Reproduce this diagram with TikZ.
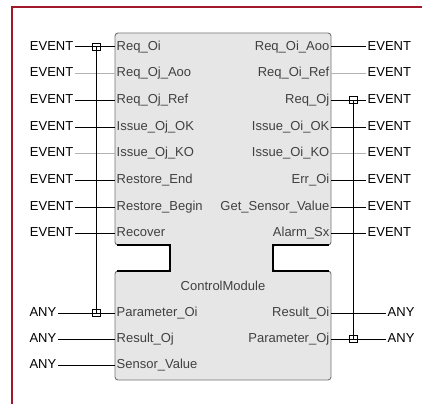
\documentclass[tikz,border=0pt]{standalone}
\usepackage{fontspec}
\setmainfont{Liberation Sans}
\usepackage{xcolor}
\usepackage{tikz}
\definecolor{framered}{HTML}{A0182A}
\definecolor{blockfill}{HTML}{E6E6E6}

\begin{document}
\begin{tikzpicture}[x=1pt, y=-1pt,
    port/.style={inner sep=1.5pt, text height=9pt, text depth=3pt, font=\fontsize{13}{15}\selectfont, text=black!75},
    ext/.style={inner sep=1.5pt, text height=9pt, text depth=3pt, font=\fontsize{13}{15}\selectfont},
    wire/.style={line width=1pt},
    faint/.style={line width=0.7pt, black!30},
    adapter/.style={draw, line width=0.9pt, minimum width=8pt, minimum height=7pt, inner sep=0pt}
]
\useasboundingbox (0,0) rectangle (422,404);

% Frame
\draw[framered, line width=2pt] (12,404) -- (12,7) -- (422,7);

% Block
\draw[fill=blockfill, draw=black!55, line width=0.9pt, rounded corners=3pt]
    (115,33) -- (331,33) -- (331,245) -- (273,245) -- (273,271) -- (331,271)
    -- (331,380) -- (115,380) -- (115,271) -- (170,271) -- (170,245) -- (115,245) -- cycle;
\draw[line width=1.3pt] (329,245) -- (273,245) -- (273,271) -- (329,271);
\draw[line width=1.3pt] (117,245) -- (170,245) -- (170,271) -- (117,271);
\node[port] (fbname) at (223,287) {ControlModule};

% Event inputs
\node[port, anchor=west] (reqoi) at (115,47) {Req\_Oi};
\node[port, anchor=west] (reqojaoo) at (115,73) {Req\_Oj\_Aoo};
\node[port, anchor=west] (reqojref) at (115,100) {Req\_Oj\_Ref};
\node[port, anchor=west] (issojok) at (115,127) {Issue\_Oj\_OK};
\node[port, anchor=west] (issojko) at (115,153) {Issue\_Oj\_KO};
\node[port, anchor=west] (rstend) at (115,180) {Restore\_End};
\node[port, anchor=west] (rstbegin) at (115,207) {Restore\_Begin};
\node[port, anchor=west] (recover) at (115,233) {Recover};

% Event outputs
\node[port, anchor=east] (reqoiaoo) at (331,47) {Req\_Oi\_Aoo};
\node[port, anchor=east] (reqoiref) at (331,73) {Req\_Oi\_Ref};
\node[port, anchor=east] (reqoj) at (331,100) {Req\_Oj};
\node[port, anchor=east] (issoiok) at (331,127) {Issue\_Oi\_OK};
\node[port, anchor=east] (issoiko) at (331,153) {Issue\_Oi\_KO};
\node[port, anchor=east] (erroi) at (331,180) {Err\_Oi};
\node[port, anchor=east] (getsens) at (331,207) {Get\_Sensor\_Value};
\node[port, anchor=east] (alarm) at (331,233) {Alarm\_Sx};

% Data inputs and outputs
\node[port, anchor=west] (paroi) at (115,313) {Parameter\_Oi};
\node[port, anchor=west] (resoj) at (115,339) {Result\_Oj};
\node[port, anchor=west] (sensval) at (115,365) {Sensor\_Value};
\node[port, anchor=east] (resoi) at (331,313) {Result\_Oi};
\node[port, anchor=east] (paroj) at (331,339) {Parameter\_Oj};

% Outside labels, left
\node[ext, anchor=east] (evl1) at (75,47) {EVENT};
\node[ext, anchor=east] (evl2) at (75,73) {EVENT};
\node[ext, anchor=east] (evl3) at (75,100) {EVENT};
\node[ext, anchor=east] (evl4) at (75,127) {EVENT};
\node[ext, anchor=east] (evl5) at (75,153) {EVENT};
\node[ext, anchor=east] (evl6) at (75,180) {EVENT};
\node[ext, anchor=east] (evl7) at (75,207) {EVENT};
\node[ext, anchor=east] (evl8) at (75,233) {EVENT};
\node[ext, anchor=east] (anyl1) at (58,313) {ANY};
\node[ext, anchor=east] (anyl2) at (58,339) {ANY};
\node[ext, anchor=east] (anyl3) at (58,365) {ANY};

% Outside labels, right
\node[ext, anchor=west] (evr1) at (366,47) {EVENT};
\node[ext, anchor=west] (evr2) at (366,73) {EVENT};
\node[ext, anchor=west] (evr3) at (366,100) {EVENT};
\node[ext, anchor=west] (evr4) at (366,127) {EVENT};
\node[ext, anchor=west] (evr5) at (366,153) {EVENT};
\node[ext, anchor=west] (evr6) at (366,180) {EVENT};
\node[ext, anchor=west] (evr7) at (366,207) {EVENT};
\node[ext, anchor=west] (evr8) at (366,233) {EVENT};
\node[ext, anchor=west] (anyr1) at (386,313) {ANY};
\node[ext, anchor=west] (anyr2) at (386,339) {ANY};

% Connectors
\draw[wire] (evl1.east) -- (reqoi.west);
\draw[faint] (evl2.east) -- (reqojaoo.west);
\draw[wire] (evl3.east) -- (reqojref.west);
\draw[wire] (evl4.east) -- (issojok.west);
\draw[faint] (evl5.east) -- (issojko.west);
\draw[wire] (evl6.east) -- (rstend.west);
\draw[wire] (evl7.east) -- (rstbegin.west);
\draw[wire] (evl8.east) -- (recover.west);
\draw[wire] (anyl1.east) -- (paroi.west);
\draw[wire] (anyl2.east) -- (resoj.west);
\draw[wire] (anyl3.east) -- (sensval.west);
\draw[wire] (reqoiaoo.east) -- (evr1.west);
\draw[faint] (reqoiref.east) -- (evr2.west);
\draw[wire] (reqoj.east) -- (evr3.west);
\draw[wire] (issoiok.east) -- (evr4.west);
\draw[faint] (issoiko.east) -- (evr5.west);
\draw[wire] (erroi.east) -- (evr6.west);
\draw[wire] (getsens.east) -- (evr7.west);
\draw[wire] (alarm.east) -- (evr8.west);
\draw[wire] (resoi.east) -- (anyr1.west);
\draw[wire] (paroj.east) -- (anyr2.west);

% WITH associations
\node[adapter] (withl1) at (96,47) {};
\node[adapter] (withl2) at (96,313) {};
\node[adapter] (withr1) at (353,100) {};
\node[adapter] (withr2) at (353,339) {};
\draw[wire] (withl1.center) -- (withl2.center);
\draw[wire] (withr1.center) -- (withr2.center);
\end{tikzpicture}
\end{document}
